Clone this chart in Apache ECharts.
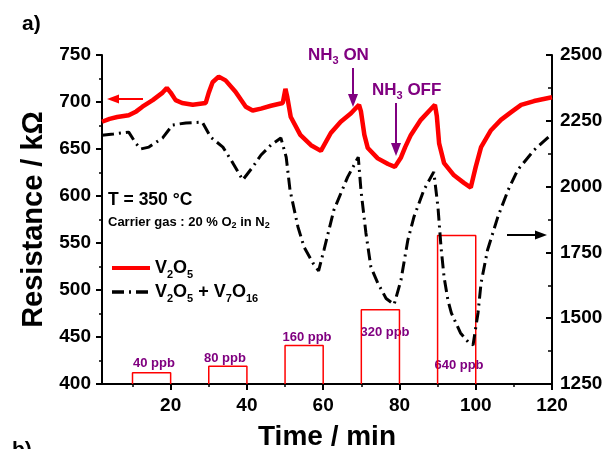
<!DOCTYPE html>
<html>
<head>
<meta charset="utf-8">
<script src="https://cdn.jsdelivr.net/npm/echarts@6/dist/echarts.min.js"></script>
<style>
  html, body { margin: 0; padding: 0; background: #fff; }
  #chart { width: 605px; height: 449px; }
</style>
</head>
<body>
<div id="chart"></div>
<script>
// V2O5 (left axis, kOhm)
var timeV2O5 = [2, 4, 6, 9, 11, 12.6, 15.3, 17.9, 19, 20, 21.3, 23, 25.8, 29.2, 30, 31, 32.6, 34.4, 37, 39.7,
  41.5, 43.7, 46.3, 49.4, 50.1, 50.6, 51.5, 54, 56.8, 59.4, 62, 64.6, 67.3, 69.4, 69.9, 70.8, 71.7, 74.3, 77, 78.8,
  80.4, 81.5, 83, 85.6, 89.3, 89.8, 90.4, 91.7, 94.3, 96.9, 98.7, 100, 101.4, 104, 106.6, 109.2, 111.9, 115.3, 120];
var resV2O5 = [679, 682, 684, 686, 690, 695, 702, 710, 715, 710, 702, 699, 697, 699, 710, 721, 727, 723, 711, 695,
  691, 693, 696, 699, 714, 705, 684, 665, 654, 648, 667, 679, 688, 697, 690, 665, 651, 640, 634, 631,
  641, 652, 665, 681, 697, 685, 656, 635, 622, 614, 609, 631, 652, 670, 681, 689, 697, 701, 705];

// V2O5 + V7O16 (right axis)
var timeMix = [2, 5, 9, 10.8, 12.2, 14.3, 17.9, 20.5, 24, 28.3, 30.5, 33.7, 36.3, 38.9, 41.5, 43.7, 46.3, 48.9,
  50.3, 51.3, 53.4, 55, 57.3, 58.8, 60.2, 62.8, 66.4, 69.2, 69.9, 71.2, 72.5, 74.3, 76.5, 78.6, 80.4, 82.2, 83.8,
  86.4, 89, 90.1, 90.9, 91.7, 92.7, 93.6, 96, 98, 99.3, 100.6, 101.4, 103.1, 105.8, 108.5, 111, 115.3, 120];
var resMix = [2195, 2200, 2207, 2166, 2143, 2150, 2185, 2234, 2242, 2245, 2188, 2150, 2090, 2025, 2074, 2120, 2158, 2185,
  2112, 1987, 1846, 1770, 1710, 1680, 1759, 1911, 2036, 2112, 1987, 1824, 1695, 1634, 1575, 1552, 1645, 1797, 1885,
  1987, 2056, 1922, 1770, 1656, 1569, 1520, 1444, 1410, 1398, 1520, 1634, 1759, 1885, 1987, 2063, 2139, 2200];

// NH3 pulses
var pulseStart = [10, 30, 50, 70, 90];
var pulseEnd = [20, 40, 60, 80, 100];
var pulseTop = [412, 419, 441, 479, 558];
var pulseLabels = ['40 ppb', '80 ppb', '160 ppb', '320 ppb', '640 ppb'];

var xTicks = [20, 40, 60, 80, 100, 120];
var xMinorTicks = [10, 30, 50, 70, 90, 110];

var FONT = '"Liberation Sans", Arial, sans-serif';
var PURPLE = '#800080';

function zip(xs, ys) {
  return xs.map(function (x, i) { return [x, ys[i]]; });
}

var chart = echarts.init(document.getElementById('chart'));

var pulseSeries = pulseStart.map(function (s, i) {
  return {
    type: 'line',
    yAxisIndex: 0,
    symbol: 'none',
    silent: true,
    lineStyle: { color: '#ff0000', width: 1.5 },
    data: [[s, 400], [s, pulseTop[i]], [pulseEnd[i], pulseTop[i]], [pulseEnd[i], 400]],
    z: 1
  };
});

// ppb labels (pixel positions)
var ppbPos = [[154, 363], [225, 358], [307, 337], [385, 332], [459, 365]];
var ppbText = pulseLabels.map(function (t, i) {
  return {
    type: 'text', x: ppbPos[i][0], y: ppbPos[i][1],
    style: { text: t, font: 'bold 13px ' + FONT, fill: PURPLE, align: 'center', verticalAlign: 'middle',
      textAlign: 'center', textVerticalAlign: 'middle' }
  };
});

// rich styles for subscripts (color for echarts text, fill for graphic text)
var subRich = function (size, subSize, color, shift) {
  return {
    n: { fontSize: size, fontWeight: 'bold', fontFamily: FONT, color: color, fill: color, lineHeight: size + shift * 2 },
    s: { fontSize: subSize, fontWeight: 'bold', fontFamily: FONT, color: color, fill: color, lineHeight: subSize, verticalAlign: 'bottom' }
  };
};

var plain = function (v) { return String(v); };

var option = {
  animation: false,
  backgroundColor: '#fff',
  grid: { left: 102, right: 53, top: 55, bottom: 65, containLabel: false, outerBoundsMode: 'none' },
  legend: {
    orient: 'vertical',
    left: 110, top: 259, padding: 0,
    itemWidth: 38, itemHeight: 14, itemGap: 3,
    selectedMode: false,
    itemStyle: { opacity: 0 },
    data: [
      { name: 'V2O5', lineStyle: { width: 4 } },
      { name: 'V2O5 + V7O16', lineStyle: { width: 3.5 } }
    ],
    formatter: function (name) {
      if (name === 'V2O5') return '{n|V}{s|2}{n|O}{s|5}';
      return '{n|V}{s|2}{n|O}{s|5}{n| + V}{s|7}{n|O}{s|16}';
    },
    textStyle: { rich: subRich(18, 11, '#000', 3) }
  },
  xAxis: [{
    type: 'value', min: 2, max: 120,
    axisLine: { show: true, lineStyle: { color: '#000', width: 2 } },
    axisTick: { show: true, customValues: xTicks, length: 6, lineStyle: { color: '#000', width: 2 } },
    axisLabel: { customValues: xTicks, margin: 12, fontSize: 19, fontWeight: 'bold', color: '#000', fontFamily: FONT },
    splitLine: { show: false },
    name: 'Time / min', nameLocation: 'middle', nameGap: 39,
    nameTextStyle: { fontSize: 28, fontWeight: 'bold', color: '#000', fontFamily: FONT }
  }, {
    type: 'value', min: 2, max: 120, position: 'bottom',
    axisLine: { show: false },
    axisTick: { show: true, customValues: xMinorTicks, length: 3, lineStyle: { color: '#000', width: 1.5 } },
    axisLabel: { show: false },
    splitLine: { show: false }
  }],
  yAxis: [{
    type: 'value', min: 400, max: 750, interval: 50, position: 'left',
    axisLine: { show: true, lineStyle: { color: '#000', width: 2 } },
    axisTick: { show: true, length: 6, lineStyle: { color: '#000', width: 2 } },
    minorTick: { show: true, splitNumber: 2, length: 3, lineStyle: { color: '#000', width: 1.5 } },
    axisLabel: { margin: 11, fontSize: 19, fontWeight: 'bold', color: '#000', fontFamily: FONT, formatter: plain },
    splitLine: { show: false },
    name: 'Resistance / kΩ', nameLocation: 'middle', nameGap: 54,
    nameTextStyle: { fontSize: 29, fontWeight: 'bold', color: '#000', fontFamily: FONT }
  }, {
    type: 'value', min: 1250, max: 2500, interval: 250, position: 'right',
    axisLine: { show: true, lineStyle: { color: '#000', width: 2 } },
    axisTick: { show: true, inside: true, length: 6, lineStyle: { color: '#000', width: 2 } },
    minorTick: { show: true, splitNumber: 2, length: 4, lineStyle: { color: '#000', width: 1.5 } },
    axisLabel: { margin: 8, fontSize: 19, fontWeight: 'bold', color: '#000', fontFamily: FONT, formatter: plain },
    splitLine: { show: false }
  }],
  series: pulseSeries.concat([{
    name: 'V2O5 + V7O16',
    type: 'line',
    yAxisIndex: 1,
    symbol: 'none',
    lineStyle: { color: '#000', width: 3, type: [12, 5, 2, 5] },
    itemStyle: { color: '#000' },
    data: zip(timeMix, resMix),
    z: 2
  }, {
    name: 'V2O5',
    type: 'line',
    yAxisIndex: 0,
    symbol: 'none',
    lineStyle: { color: '#ff0000', width: 4.5 },
    itemStyle: { color: '#ff0000' },
    data: zip(timeV2O5, resV2O5),
    z: 3
  }]),
  graphic: ppbText.concat([
    { type: 'text', x: 22, y: 24, style: { text: 'a)', font: 'bold 21px ' + FONT, fill: '#000',
      verticalAlign: 'middle', textVerticalAlign: 'middle' } },
    { type: 'text', x: 12, y: 440, style: { text: 'b)', font: 'bold 21px ' + FONT, fill: '#000',
      verticalAlign: 'top', textVerticalAlign: 'top' } },
    { type: 'text', x: 108, y: 200, style: { text: 'T = 350 °C', font: 'bold 17.5px ' + FONT, fill: '#000',
      verticalAlign: 'middle', textVerticalAlign: 'middle' } },
    { type: 'text', x: 108, y: 222, style: { text: '{n|Carrier gas : 20 % O}{s|2}{n| in N}{s|2}',
      rich: subRich(13, 9, '#000', 2), verticalAlign: 'middle', textVerticalAlign: 'middle' } },
    { type: 'text', x: 308, y: 55, style: { text: '{n|NH}{s|3}{n| ON}',
      rich: subRich(17, 11, PURPLE, 3), verticalAlign: 'middle', textVerticalAlign: 'middle' } },
    { type: 'text', x: 372, y: 90, style: { text: '{n|NH}{s|3}{n| OFF}',
      rich: subRich(17, 11, PURPLE, 3), verticalAlign: 'middle', textVerticalAlign: 'middle' } },
    // NH3 ON arrow
    { type: 'line', shape: { x1: 353, y1: 68, x2: 353, y2: 97 }, style: { stroke: PURPLE, lineWidth: 2 } },
    { type: 'polygon', shape: { points: [[348, 94], [358, 94], [353, 107]] }, style: { fill: PURPLE } },
    // NH3 OFF arrow
    { type: 'line', shape: { x1: 396, y1: 103, x2: 396, y2: 146 }, style: { stroke: PURPLE, lineWidth: 2 } },
    { type: 'polygon', shape: { points: [[391, 143], [401, 143], [396, 156]] }, style: { fill: PURPLE } },
    // left-axis arrow (red)
    { type: 'line', shape: { x1: 143, y1: 99, x2: 115, y2: 99 }, style: { stroke: '#ff0000', lineWidth: 2 } },
    { type: 'polygon', shape: { points: [[107, 99], [119, 94.5], [119, 103.5]] }, style: { fill: '#ff0000' } },
    // right-axis arrow (black)
    { type: 'line', shape: { x1: 507, y1: 235, x2: 538, y2: 235 }, style: { stroke: '#000', lineWidth: 2 } },
    { type: 'polygon', shape: { points: [[547, 235], [535, 230.5], [535, 239.5]] }, style: { fill: '#000' } }
  ])
};

chart.setOption(option);
</script>
</body>
</html>
